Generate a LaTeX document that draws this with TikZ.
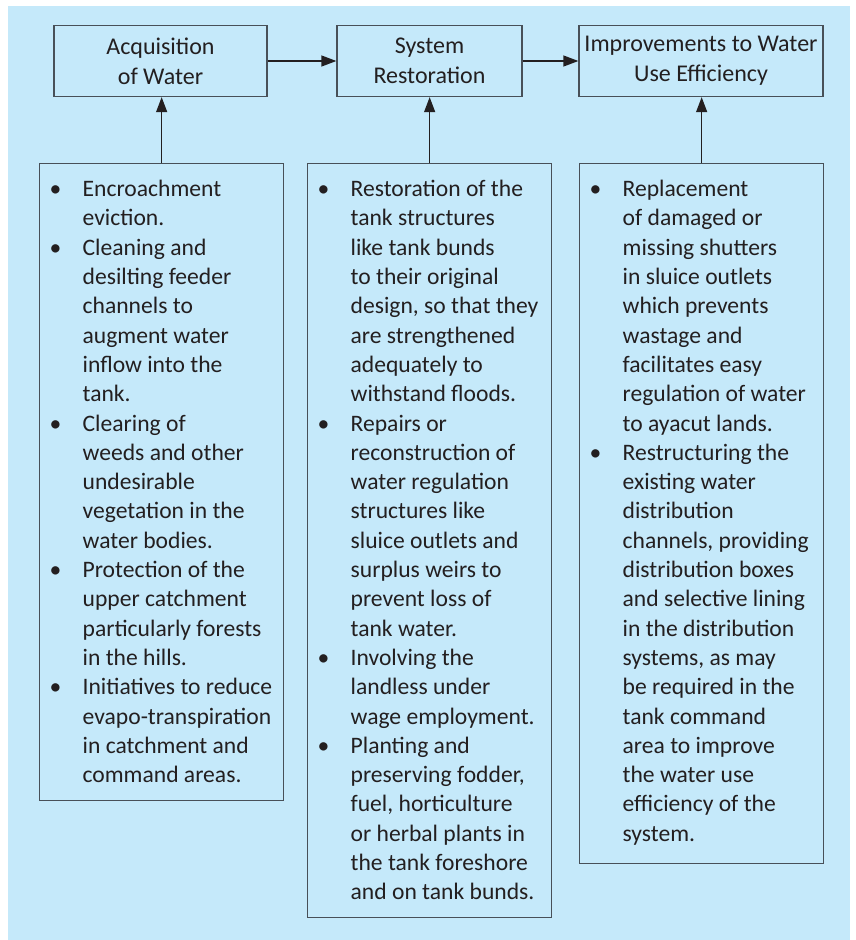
\documentclass[tikz,border=0pt]{standalone}
\usepackage{fontspec}
\setmainfont{Carlito}
\usetikzlibrary{arrows.meta}

\definecolor{panel}{RGB}{197,233,250}
\definecolor{edge}{RGB}{72,80,88}
\definecolor{ink}{RGB}{35,31,32}

% one bulleted entry: bullet in a fixed gutter, hanging indent for the wrapped lines
\newcommand{\bitem}[1]{\par\hangindent=29pt\hangafter=1\noindent
  \rule{0pt}{19pt}\makebox[29pt][l]{\hspace{-4pt}\textbullet}#1}
% a top-aligned column of entries of fixed height, 14pt in from the left
% edge and 8pt in from the right edge of a 244pt wide box
\newcommand{\itemcol}[2]{\hspace*{14pt}%
  \begin{minipage}[t][#1][t]{222pt}\rightskip=0pt plus 1fil
  \hyphenpenalty=10000 \hbadness=10000 #2\end{minipage}\hspace*{8pt}}

\begin{document}
\begin{tikzpicture}[x=1pt,y=-1pt,
  stage/.style={draw=edge,line width=1.3pt,text=ink,align=center,
    minimum width=#1,minimum height=71pt,inner sep=0pt,
    font=\fontsize{24}{30}\selectfont},
  listbox/.style={draw=edge,line width=1.3pt,text=ink,anchor=north west,
    inner xsep=0pt,inner ysep=14pt,font=\fontsize{23.6}{29.3}\selectfont},
  flow/.style={draw=ink,line width=1.3pt,-{Triangle[length=15pt,width=11pt]}}]

\useasboundingbox (0,0) rectangle (855,940);
\fill[panel] (8,6) rectangle (850,940);

% the three stages
\node[stage=213pt] (t1) at (160.5,61) {Acquisition\\of Water};
\node[stage=185pt] (t2) at (429.5,61) {System\\Restoration};
\node[stage=244pt] (t3) at (701,61) {Improvements to Water\\Use Efficiency};

% activities under each stage
\node[listbox] (b1) at (39,163) {\itemcol{609pt}{%
\bitem{Encroachment\\eviction.}
\bitem{Cleaning and\\desilting feeder\\channels to\\augment water\\inflow into the\\tank.}
\bitem{Clearing of\\weeds and other\\undesirable\\vegetation in the\\water bodies.}
\bitem{Protection of the\\upper catchment\\particularly forests\\in the hills.}
\bitem{Initiatives to reduce\\evapo-transpiration\\in catchment and\\command areas.}}};

\node[listbox] (b2) at (307,163) {\itemcol{726pt}{%
\bitem{Restoration of the\\tank structures\\like tank bunds\\to their original\\design, so that they\\are strengthened\\adequately to\\withstand floods.}
\bitem{Repairs or\\reconstruction of\\water regulation\\structures like\\sluice outlets and\\surplus weirs to\\prevent loss of\\tank water.}
\bitem{Involving the\\landless under\\wage employment.}
\bitem{Planting and\\preserving fodder,\\fuel, horticulture\\or herbal plants in\\the tank foreshore\\and on tank bunds.}}};

\node[listbox] (b3) at (579,163) {\itemcol{672pt}{%
\bitem{Replacement\\of damaged or\\missing shutters\\in sluice outlets\\which prevents\\wastage and\\facilitates easy\\regulation of water\\to ayacut lands.}
\bitem{Restructuring the\\existing water\\distribution\\channels, providing\\distribution boxes\\and selective lining\\in the distribution\\systems, as may\\be required in the\\tank command\\area to improve\\the water use\\efficiency of the\\system.}}};

% connectors
\draw[flow] (t1) -- (t2);
\draw[flow] (t2) -- (t3);
\draw[flow] (b1.north) -- (b1.north |- t1.south);
\draw[flow] (b2.north) -- (b2.north |- t2.south);
\draw[flow] (b3.north) -- (b3.north |- t3.south);
\end{tikzpicture}
\end{document}
